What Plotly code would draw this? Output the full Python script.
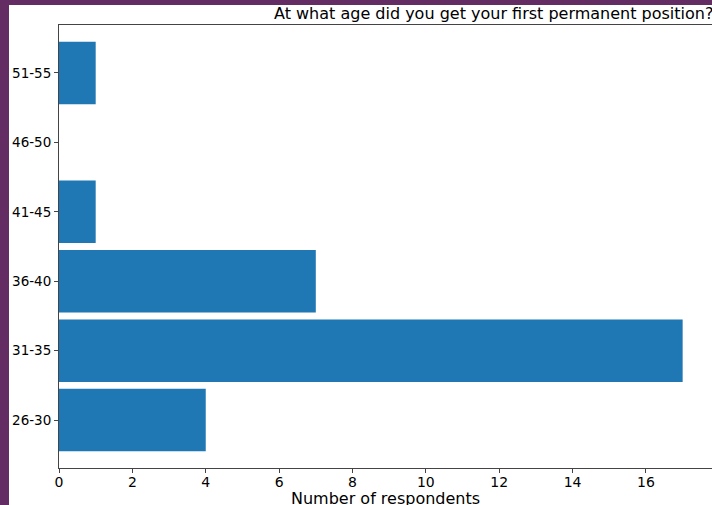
import plotly.graph_objects as go

categories = ["26-30", "31-35", "36-40", "41-45", "46-50", "51-55"]
counts = [4, 17, 7, 1, 0, 1]
x_ticks = [0, 2, 4, 6, 8, 10, 12, 14, 16]

title_text = "At what age did you get your first permanent position?"
x_label = "Number of respondents"

fig = go.Figure(go.Bar(
    x=counts, y=categories, orientation="h", width=0.9,
    marker=dict(color="#1f77b4", line=dict(width=0)),
))

font_family = "DejaVu Sans"
axis_color = "#444444"

fig.update_layout(
    width=712, height=505,
    margin=dict(l=59, r=0, t=25, b=37),
    paper_bgcolor="#632c62",
    plot_bgcolor="white",
    showlegend=False,
    font=dict(family=font_family, size=14, color="black"),
    shapes=[dict(type="rect", xref="paper", yref="paper",
                 x0=-50/653, x1=1.2, y0=-0.3, y1=1 + 20/443,
                 fillcolor="white", line=dict(width=0), layer="below")],
    annotations=[
        dict(text=title_text, xref="paper", yref="paper",
             x=(715-59)/653, y=1 + (25-14)/443, xanchor="right", yanchor="middle",
             showarrow=False, font=dict(size=16, family=font_family, color="black")),
        dict(text=x_label, xref="paper", yref="paper",
             x=0.5, y=-(487-468)/443, xanchor="center", yanchor="top",
             showarrow=False, font=dict(size=16, family=font_family, color="black")),
    ],
)

fig.update_xaxes(
    range=[0, 17.8], tickvals=x_ticks, showgrid=False, zeroline=False,
    showline=True, linecolor=axis_color, linewidth=1, mirror=True,
    ticks="outside", ticklen=4, tickcolor=axis_color, ticklabelstandoff=-3,
    tickfont=dict(size=14, family=font_family, color="black"),
)
fig.update_yaxes(
    type="category", categoryorder="array", categoryarray=categories,
    range=[-0.69, 5.69], showgrid=False, zeroline=False,
    showline=True, linecolor=axis_color, linewidth=1,
    ticks="outside", ticklen=4, tickcolor=axis_color,
    tickfont=dict(size=13.5, family=font_family, color="black"),
)

fig.write_html(
    "out.html",
    config={"displayModeBar": False},
    post_script="document.body.style.margin='0';document.body.style.overflow='hidden';",
)
